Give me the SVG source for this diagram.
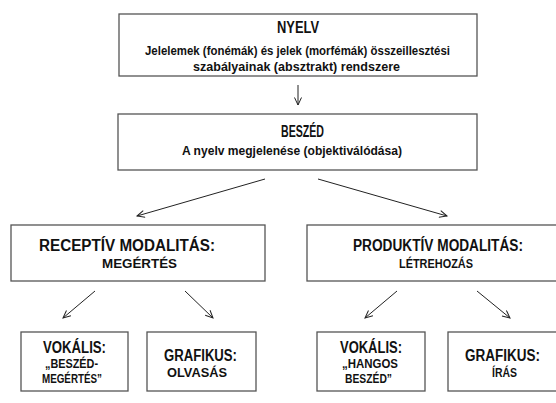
<svg xmlns="http://www.w3.org/2000/svg" width="556" height="403" viewBox="0 0 556 403">
<style>
.box{fill:#fff;stroke:#555;stroke-width:1.3}
text{font-family:"Liberation Sans",Arial,sans-serif;font-weight:bold;fill:#111}
.t{font-size:16px}
.s{font-size:12.5px}
.c line{stroke:#222;stroke-width:1;marker-end:url(#ah)}
</style>
<defs>
<marker id="ah" markerUnits="userSpaceOnUse" markerWidth="10" markerHeight="10" refX="8" refY="4" orient="auto">
<path d="M0.5,0.5 L8,4 L0.5,7.5" fill="none" stroke="#222" stroke-width="1"/>
</marker>
</defs>
<rect width="556" height="403" fill="#fff"/>
<g id="nyelv">
<rect class="box" x="119" y="14" width="358" height="62"/>
<text class="t" x="277" y="33" textLength="42" lengthAdjust="spacingAndGlyphs">NYELV</text>
<text class="s" x="145" y="55" textLength="305" lengthAdjust="spacingAndGlyphs">Jelelemek (fonémák) és jelek (morfémák) összeillesztési</text>
<text class="s" x="193" y="71" textLength="207" lengthAdjust="spacingAndGlyphs">szabályainak (absztrakt) rendszere</text>
</g>
<g id="beszed">
<rect class="box" x="118" y="114" width="359" height="56"/>
<text class="t" x="281" y="137" textLength="43" lengthAdjust="spacingAndGlyphs">BESZÉD</text>
<text class="s" x="182" y="155" textLength="220" lengthAdjust="spacingAndGlyphs">A nyelv megjelenése (objektiválódása)</text>
</g>
<g id="receptiv">
<rect class="box" x="11" y="225" width="254" height="56"/>
<text class="t" x="39" y="251" textLength="176" lengthAdjust="spacingAndGlyphs">RECEPTÍV MODALITÁS:</text>
<text class="s" x="102" y="268" textLength="75" lengthAdjust="spacingAndGlyphs">MEGÉRTÉS</text>
</g>
<g id="produktiv">
<rect class="box" x="307" y="225" width="260" height="56"/>
<text class="t" x="353" y="251" textLength="170" lengthAdjust="spacingAndGlyphs">PRODUKTÍV MODALITÁS:</text>
<text class="s" x="399" y="268" textLength="74" lengthAdjust="spacingAndGlyphs">LÉTREHOZÁS</text>
</g>
<g id="vokalis1">
<rect class="box" x="21" y="332" width="107" height="59"/>
<text class="t" x="43" y="353" textLength="63" lengthAdjust="spacingAndGlyphs">VOKÁLIS:</text>
<text class="s" x="45" y="368" textLength="53" lengthAdjust="spacingAndGlyphs">„BESZÉD-</text>
<text class="s" x="42" y="383" textLength="60" lengthAdjust="spacingAndGlyphs">MEGÉRTÉS”</text>
</g>
<g id="grafikus1">
<rect class="box" x="147" y="332" width="109" height="59"/>
<text class="t" x="164" y="361" textLength="73" lengthAdjust="spacingAndGlyphs">GRAFIKUS:</text>
<text class="s" x="167" y="377" textLength="60" lengthAdjust="spacingAndGlyphs">OLVASÁS</text>
</g>
<g id="vokalis2">
<rect class="box" x="317" y="332" width="108" height="59"/>
<text class="t" x="340" y="353" textLength="62" lengthAdjust="spacingAndGlyphs">VOKÁLIS:</text>
<text class="s" x="342" y="368" textLength="56" lengthAdjust="spacingAndGlyphs">„HANGOS</text>
<text class="s" x="345" y="383" textLength="47" lengthAdjust="spacingAndGlyphs">BESZÉD”</text>
</g>
<g id="grafikus2">
<rect class="box" x="448" y="332" width="120" height="59"/>
<text class="t" x="465" y="361" textLength="75" lengthAdjust="spacingAndGlyphs">GRAFIKUS:</text>
<text class="s" x="492" y="377" textLength="25" lengthAdjust="spacingAndGlyphs">ÍRÁS</text>
</g>
<g id="connectors" class="c">
<line x1="298" y1="85" x2="298" y2="105"/>
<line x1="265" y1="179" x2="137" y2="216"/>
<line x1="318" y1="179" x2="447" y2="216"/>
<line x1="95" y1="291" x2="63" y2="318"/>
<line x1="185" y1="291" x2="213" y2="318"/>
<line x1="397" y1="291" x2="365" y2="318"/>
<line x1="477" y1="291" x2="510" y2="318"/>
</g>
</svg>
